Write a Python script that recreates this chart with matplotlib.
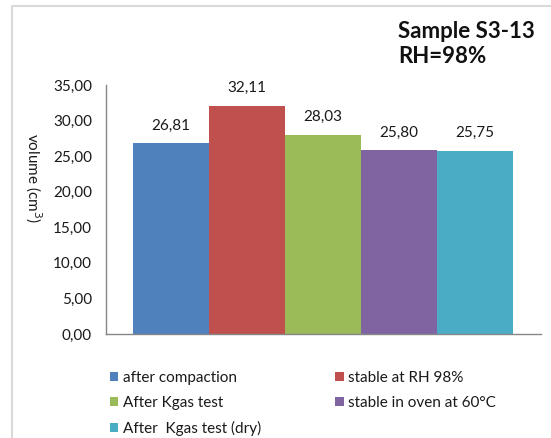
import matplotlib
matplotlib.use("Agg")
import matplotlib.pyplot as plt
from matplotlib.lines import Line2D
import numpy as np

plt.rcParams['font.family'] = ['Lato', 'DejaVu Sans']

series = ["after compaction", "stable at RH 98%", "After Kgas test",
          "stable in oven at 60°C", "After  Kgas test (dry)"]
values = [26.81, 32.11, 28.03, 25.80, 25.75]
colors = ["#4F81BD", "#C0504D", "#9BBB59", "#8064A2", "#4BACC6"]
yticks = [0, 5, 10, 15, 20, 25, 30, 35]
title_text = "Sample S3-13\nRH=98%"
ylabel_text = "volume (cm$^3$)"

W, H = 551, 438
fig = plt.figure(figsize=(W / 100, H / 100), dpi=100)

# chart border (partially visible)
fig.add_artist(Line2D([12 / W, 12 / W, 1.0], [0.0, 1 - 6 / H, 1 - 6 / H],
                      transform=fig.transFigure, color="#d9d9d9", lw=1.5))

FS = 11
TXT = "#1a1a1a"

ax = fig.add_axes([106 / W, 1 - 334 / H, (541 - 106) / W, (334 - 85) / H])
x = np.arange(len(values))
bars = []
for i, (v, c, s) in enumerate(zip(values, colors, series)):
    b = ax.bar(x[i], v, width=1.0, color=c, label=s, linewidth=0)
    bars.append(b)
    ax.annotate(f"{v:.2f}".replace(".", ","), (x[i], v), xytext=(0, 7.5),
                textcoords="offset points", ha="center", va="bottom",
                fontsize=FS, color=TXT)

ax.set_xlim(-0.5 - 0.36, len(values) - 0.5 + 0.37)
ax.set_ylim(0, 35)
ax.set_yticks(yticks)
ax.set_yticklabels([f"{t:.2f}".replace(".", ",") for t in yticks], fontsize=FS, color=TXT)
ax.tick_params(axis="y", length=0, pad=10)
ax.set_xticks([])
for sp in ["top", "right"]:
    ax.spines[sp].set_visible(False)
for sp in ["left", "bottom"]:
    ax.spines[sp].set_color("#868686")
    ax.spines[sp].set_linewidth(1.0)

fig.text(33 / W, 1 - 178 / H, ylabel_text, rotation=270, ha="center", va="center",
         fontsize=FS, color=TXT)

fig.text(398 / W, 1 - 44 / H, title_text, ha="left", va="center", fontsize=16,
         fontweight="bold", color="#111111", linespacing=1.25)

order = [0, 2, 4, 1, 3]
handles = [bars[i] for i in order]
labels = [series[i] for i in order]
fig.legend(handles, labels, ncol=2, loc="upper left",
           bbox_to_anchor=(110 / W, 1 - 371 / H), frameon=False, fontsize=FS,
           handlelength=0.55, handleheight=0.55, handletextpad=0.3,
           labelspacing=0.72, columnspacing=4.85, borderpad=0, borderaxespad=0,
           labelcolor=TXT)

fig.savefig("out.png", dpi=100)
